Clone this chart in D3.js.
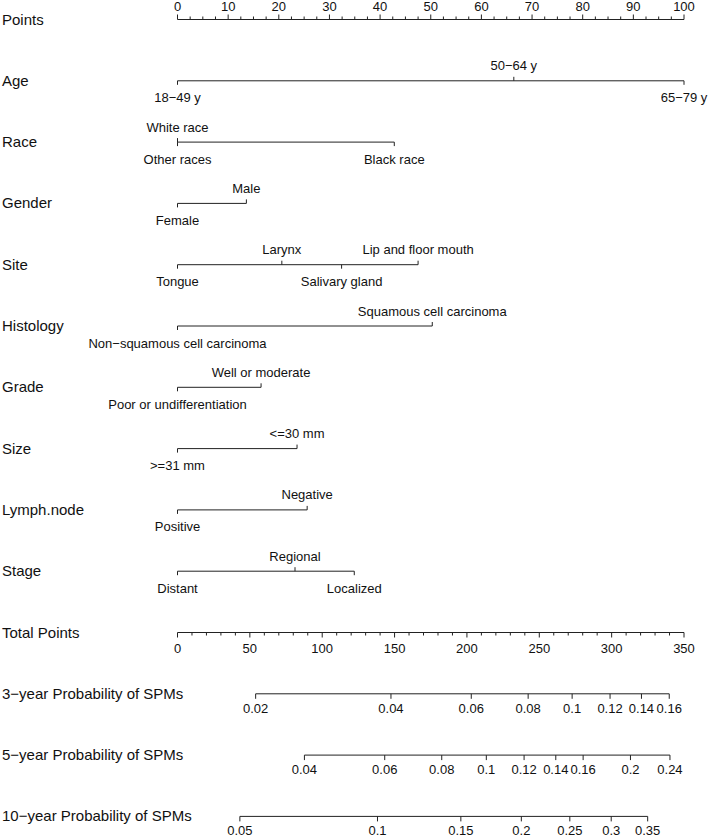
<!DOCTYPE html>
<html>
<head>
<meta charset="utf-8">
<script src="https://cdn.jsdelivr.net/npm/d3@7"></script>
<style>
  html, body { margin: 0; padding: 0; background: #fff; }
  svg { display: block; }
  text { font-family: "Liberation Sans", Arial, Helvetica, sans-serif; fill: #111; }
</style>
</head>
<body>
<div id="chart"></div>
<script>
// ---------- data ----------
const rowNames = ["Points", "Age", "Race", "Gender", "Site", "Histology", "Grade", "Size",
  "Lymph.node", "Stage", "Total Points", "3\u2212year Probability of SPMs",
  "5\u2212year Probability of SPMs", "10\u2212year Probability of SPMs"];

const pointsTicks = [0, 10, 20, 30, 40, 50, 60, 70, 80, 90, 100];
const totalTicks = [0, 50, 100, 150, 200, 250, 300, 350];

// variable levels (sorted by points) : label, points
const ageLevels = ["18\u221249 y", "50\u221264 y", "65\u221279 y"];
const agePoints = [0, 66.4, 100];
const raceLevels = ["Other races", "White race", "Black race"];
const racePoints = [0, 0, 42.8];
const genderLevels = ["Female", "Male"];
const genderPoints = [0, 13.6];
const siteLevels = ["Tongue", "Larynx", "Salivary gland", "Lip and floor mouth"];
const sitePoints = [0, 20.6, 32.4, 47.5];
const histLevels = ["Non\u2212squamous cell carcinoma", "Squamous cell carcinoma"];
const histPoints = [0, 50.3];
const gradeLevels = ["Poor or undifferentiation", "Well or moderate"];
const gradePoints = [0, 16.5];
const sizeLevels = [">=31 mm", "<=30 mm"];
const sizePoints = [0, 23.6];
const lymphLevels = ["Positive", "Negative"];
const lymphPoints = [0, 25.6];
const stageLevels = ["Distant", "Regional", "Localized"];
const stagePoints = [0, 23.2, 34.9];

// probability scales: tick labels and the total points they sit at
const prob3Labels = ["0.02", "0.04", "0.06", "0.08", "0.1", "0.12", "0.14", "0.16"];
const prob3Points = [54.0, 147.5, 203.0, 242.3, 272.7, 298.9, 320.6, 339.8];
const prob5Labels = ["0.04", "0.06", "0.08", "0.1", "0.12", "0.14", "0.16", "0.2", "0.24"];
const prob5Points = [87.7, 143.2, 182.6, 213.4, 239.5, 261.4, 280.3, 313.0, 340.3];
const prob10Labels = ["0.05", "0.1", "0.15", "0.2", "0.25", "0.3", "0.35"];
const prob10Points = [43.1, 138.2, 195.8, 237.6, 271.1, 299.7, 324.9];

// ---------- layout ----------
const W = 709, H = 839;
const x0 = 177.5, x1 = 684;
const rowTop = 19.5, rowStep = 61.3;
const lineColor = "#222";
const labelFont = 15, tickFont = 13;

const svg = d3.select("#chart").append("svg").attr("width", W).attr("height", H);

const xPts = d3.scaleLinear().domain([0, 100]).range([x0, x1]);
const xTot = d3.scaleLinear().domain([0, 350]).range([x0, x1]);
const yRow = d3.scaleLinear().domain([0, 1]).range([rowTop, rowTop + rowStep]);

// row labels
svg.append("g").selectAll("text").data(rowNames).join("text")
  .attr("x", 2).attr("y", (d, i) => yRow(i) + 5)
  .attr("font-size", labelFont)
  .text(d => d);

function hline(g, xa, xb, y) {
  g.append("line").attr("x1", xa).attr("x2", xb).attr("y1", y).attr("y2", y)
    .attr("stroke", lineColor).attr("stroke-width", 1);
}
function tick(g, x, y, len) {
  g.append("line").attr("x1", x).attr("x2", x).attr("y1", y).attr("y2", y + len)
    .attr("stroke", lineColor).attr("stroke-width", 1);
}

// Points axis (top)
{
  const g = svg.append("g");
  const y = yRow(0);
  hline(g, xPts(0), xPts(100), y);
  d3.range(0, 100.01, 2.5).forEach(v => tick(g, xPts(v), y, v % 10 === 0 ? -5 : -3));
  g.selectAll("text").data(pointsTicks).join("text")
    .attr("x", d => xPts(d)).attr("y", y - 9)
    .attr("text-anchor", "middle").attr("font-size", tickFont)
    .text(d => d);
}

// variable rows
const variables = [
  [ageLevels, agePoints], [raceLevels, racePoints], [genderLevels, genderPoints],
  [siteLevels, sitePoints], [histLevels, histPoints], [gradeLevels, gradePoints],
  [sizeLevels, sizePoints], [lymphLevels, lymphPoints], [stageLevels, stagePoints]
];
variables.forEach(([levels, pts], vi) => {
  const g = svg.append("g");
  const y = yRow(vi + 1);
  hline(g, xPts(d3.min(pts)), xPts(d3.max(pts)), y);
  levels.forEach((lab, i) => {
    const above = i % 2 === 1;
    const x = xPts(pts[i]);
    tick(g, x, y, above ? -4 : 4);
    g.append("text")
      .attr("x", x).attr("y", above ? y - 10.5 : y + 21.5)
      .attr("text-anchor", "middle").attr("font-size", tickFont)
      .text(lab);
  });
});

// Total points axis
{
  const g = svg.append("g");
  const y = yRow(10);
  hline(g, xTot(0), xTot(350), y);
  d3.range(0, 350.01, 10).forEach(v => tick(g, xTot(v), y, v % 50 === 0 ? 5 : 3));
  g.selectAll("text").data(totalTicks).join("text")
    .attr("x", d => xTot(d)).attr("y", y + 20.5)
    .attr("text-anchor", "middle").attr("font-size", tickFont)
    .text(d => d);
}

// probability axes
[[prob3Labels, prob3Points], [prob5Labels, prob5Points], [prob10Labels, prob10Points]]
  .forEach(([labs, pts], k) => {
    const g = svg.append("g");
    const y = yRow(11 + k);
    hline(g, xTot(d3.min(pts)), xTot(d3.max(pts)), y);
    pts.forEach(p => tick(g, xTot(p), y, 5));
    g.selectAll("text").data(labs).join("text")
      .attr("x", (d, i) => xTot(pts[i])).attr("y", y + 19)
      .attr("text-anchor", "middle").attr("font-size", tickFont)
      .text(d => d);
  });
</script>
</body>
</html>
